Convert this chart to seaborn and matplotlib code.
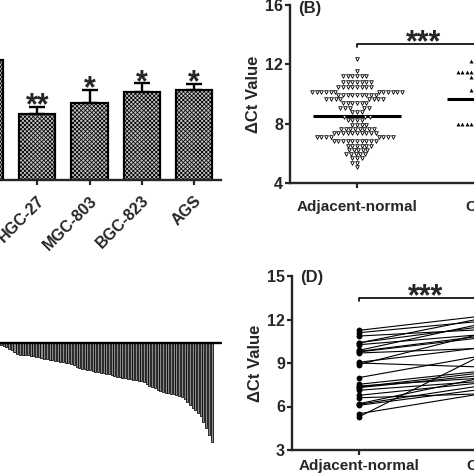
import numpy as np
import pandas as pd
import matplotlib
matplotlib.use('Agg')
import matplotlib.pyplot as plt
import seaborn as sns

sns.set_style('ticks')
plt.rcParams['font.family'] = ['Liberation Sans', 'DejaVu Sans']
plt.rcParams['font.weight'] = 'bold'
plt.rcParams['axes.labelweight'] = 'bold'
plt.rcParams['hatch.linewidth'] = 0.55

# (A) relative expression in cell lines (first bar is the control, cropped)
cell_lines = ['GES-1', 'HGC-27', 'MGC-803', 'BGC-823', 'AGS']
rel_expr = [1.00, 0.55, 0.64, 0.73, 0.75]
rel_err = [0.00, 0.06, 0.11, 0.075, 0.05]
stars_a = ['', '**', '*', '*', '*']

# (B) delta Ct, rows of the dot plot: value and number of dots in the row
adj_rows = [12.34, 11.57, 11.21, 10.83, 10.49, 10.16, 9.93, 9.64, 9.39, 9.06, 8.81, 8.47,
            8.25, 7.91, 7.62, 7.35, 7.08, 6.85, 6.51, 6.22, 5.96, 5.67, 5.37, 5.06]
adj_counts = [1, 1, 6, 7, 8, 12, 9, 8, 6, 5, 3, 3, 4, 4, 8, 10, 8, 10, 6, 5, 5, 3, 2, 1]
ca_rows = [12.23, 11.50, 11.12, 10.27, 10.00, 9.60, 9.10, 8.60, 7.98, 7.20, 6.60]
ca_counts = [10, 16, 10, 10, 7, 7, 7, 7, 17, 7, 7]

# (C) waterfall of fold change per patient
waterfall = [-0.2, -0.3, -0.4, -0.6, -0.7, -0.9, -1.1, -1.2, -1.2, -1.2, -1.2, -1.25, -1.3,
             -1.35, -1.4, -1.5, -1.55, -1.6, -1.65, -1.7, -1.75, -1.8, -1.85, -1.9, -1.95,
             -2.0, -2.1, -2.2, -2.35, -2.5, -2.55, -2.6, -2.65, -2.7, -2.8, -2.85, -2.9,
             -2.95, -3.0, -3.05, -3.1, -3.2, -3.3, -3.35, -3.4, -3.45, -3.5, -3.55, -3.6,
             -3.65, -3.7, -3.75, -3.8, -3.9, -4.1, -4.3, -4.4, -4.5, -4.7, -4.8, -4.9,
             -4.95, -5.0, -5.05, -5.1, -5.2, -5.3, -5.4, -5.6, -5.9, -6.2, -6.5, -6.7,
             -7.0, -7.3, -7.9, -8.5, -9.2, -9.9]

# (D) paired samples
pair_adj = [11.25, 11.09, 10.86, 10.38, 10.26, 9.87, 9.76, 9.69, 9.00, 8.89, 7.99, 7.53,
            7.41, 7.30, 7.12, 6.77, 6.60, 6.19, 6.08, 5.50, 5.28, 9.80, 10.40, 6.15, 7.35, 9.05]
pair_ca = [12.32, 11.95, 11.34, 12.22, 11.02, 11.86, 10.83, 10.04, 8.70, 11.21, 9.63, 8.52,
           8.01, 8.22, 7.79, 7.71, 6.90, 8.13, 7.28, 7.00, 9.89, 10.95, 11.60, 7.55, 8.40, 10.15]

groups = ['Adjacent-normal', 'Cancer']

W = 474
fig = plt.figure(figsize=(4.74, 4.74), dpi=100)


def px_axes(l, t, r, b):
    return fig.add_axes([l / W, 1 - b / W, (r - l) / W, (b - t) / W])


def style_axis(ax):
    for s in ['top', 'right']:
        ax.spines[s].set_visible(False)
    for s in ['left', 'bottom']:
        ax.spines[s].set_linewidth(1.7)
    ax.tick_params(width=1.6, length=3.5, labelsize=11.5, pad=1.5)


# ---- panel A
axA = px_axes(-42, 36, 221, 180)
sns.barplot(x=cell_lines, y=rel_expr, color='#c4c4c4', edgecolor='black', linewidth=1.6,
            width=0.69, saturation=1, ax=axA)
for p in axA.patches:
    p.set_hatch('xxxxxxxx')
axA.errorbar(range(len(rel_expr)), rel_expr, yerr=[np.zeros(len(rel_err)), rel_err],
             fmt='none', ecolor='black', elinewidth=1.7, capsize=6, capthick=1.7)
for i, s in enumerate(stars_a):
    axA.annotate(s, (i, rel_expr[i] + rel_err[i]), xytext=(0, -5.5), textcoords='offset points',
                 ha='center', va='baseline', fontsize=22)
style_axis(axA)
axA.set_ylim(0, 1.2)
axA.set_xlim(-0.52, 4.52)
axA.tick_params(axis='x', labelsize=11.5, pad=6)
plt.setp(axA.get_xticklabels(), rotation=45, ha='right', rotation_mode='anchor')
axA.set_xlabel('')

# ---- panel B
axB = px_axes(290, 5, 558, 183)
adj = np.repeat(adj_rows, adj_counts)
ca = np.repeat(ca_rows, ca_counts)
sns.swarmplot(x=['Adjacent-normal'] * len(adj), y=adj, order=groups, marker='v', size=2.6,
              color='white', edgecolor='black', linewidth=0.6, ax=axB)
sns.swarmplot(x=['Cancer'] * len(ca), y=ca, order=groups, marker='^', size=2.8,
              color='black', ax=axB)
for i, vals in enumerate([adj, ca]):
    axB.hlines(np.mean(vals), i - 0.33, i + 0.33, color='black', lw=2.2)
axB.plot([0, 0, 1, 1], [13.15, 13.37, 13.37, 13.15], color='black', lw=1.2, clip_on=False)
axB.annotate('***', (0.5, 13.37), xytext=(0, -5), textcoords='offset points',
             ha='center', va='baseline', fontsize=22)
style_axis(axB)
axB.set_ylim(4, 16)
axB.set_yticks([4, 8, 12, 16])
axB.set_xlim(-0.5, 1.5)
axB.set_ylabel('\u0394Ct Value', fontsize=12, fontweight='bold', labelpad=3)
axB.tick_params(axis='x', labelsize=11, pad=9)
axB.text(-0.44, 15.75, '(B)', fontsize=12, va='center', ha='left')

# ---- panel C
axC = px_axes(-15.2, 343, 221, 448)
sns.barplot(x=list(range(len(waterfall))), y=waterfall, color='#8a8a8a', edgecolor='black',
            linewidth=0.55, width=0.75, saturation=1, ax=axC)
axC.axhline(0, color='black', lw=1.7, clip_on=False)
axC.set_xlim(-6, 81.5)
axC.set_ylim(-10.5, 0)
axC.axis('off')

# ---- panel D
axD = px_axes(292, 276, 559, 450)
long_d = pd.DataFrame({
    'pair': list(range(len(pair_adj))) * 2,
    'group': [0] * len(pair_adj) + [1] * len(pair_ca),
    'dct': pair_adj + pair_ca,
})
sns.lineplot(data=long_d, x='group', y='dct', units='pair', estimator=None, color='black',
             lw=0.8, marker='o', markersize=4.2, markeredgewidth=0, ax=axD)
axD.plot([0, 0, 1, 1], [13.25, 13.48, 13.48, 13.25], color='black', lw=1.2, clip_on=False)
axD.annotate('***', (0.5, 13.48), xytext=(0, -5), textcoords='offset points',
             ha='center', va='baseline', fontsize=22)
style_axis(axD)
axD.set_ylim(3, 15)
axD.set_yticks([3, 6, 9, 12, 15])
axD.set_xlim(-0.5, 1.5)
axD.set_xticks([0, 1], groups)
axD.set_xlabel('')
axD.set_ylabel('\u0394Ct Value', fontsize=12, fontweight='bold', labelpad=3)
axD.tick_params(axis='x', labelsize=11, pad=3)
axD.text(-0.44, 14.93, '(D)', fontsize=12, va='center', ha='left')

fig.savefig('out.png', dpi=100)
